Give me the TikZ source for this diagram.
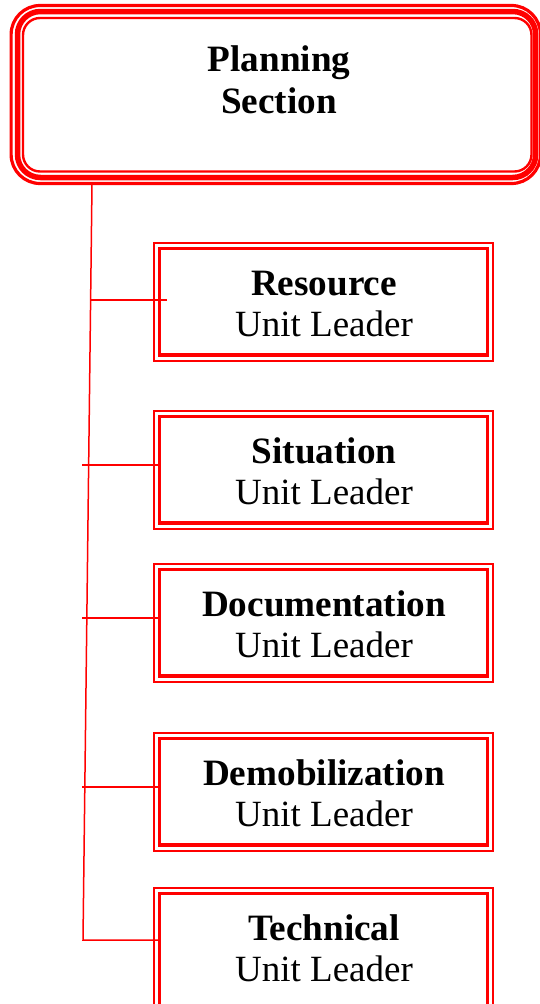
\documentclass[tikz,border=0pt]{standalone}
\usepackage{fontspec}
\setmainfont{Liberation Serif}
\usetikzlibrary{fit,calc}
\begin{document}
\begin{tikzpicture}[x=1pt,y=-1pt,
  unitbox/.style={draw=red, line width=3.2pt, minimum width=327.8pt,
    minimum height=106.5pt, inner sep=0pt, outer sep=0pt},
  unitframe/.style={draw=red, line width=2pt, inner sep=5.5pt, outer sep=0pt},
  headbox/.style={draw=red, line width=2.4pt, rounded corners=17pt,
    minimum width=508.5pt, minimum height=153.5pt, inner sep=0pt, outer sep=0pt},
  title/.style={anchor=base, inner sep=0pt, font=\fontsize{37.2}{42}\selectfont\bfseries},
  subtitle/.style={anchor=base, inner sep=0pt, font=\fontsize{37}{42}\selectfont},
  link/.style={draw=red, line width=1.5pt},
]
\useasboundingbox (0,0) rectangle (539,1004);

% Planning Section: triple rounded frame
\node[headbox] (plan) at (277.25,94.75) {};
\draw[red, line width=5.5pt, rounded corners=23pt]
  ([shift={(-5.5,-6.5)}]plan.north west) rectangle ([shift={(4.2,6)}]plan.south east);
\draw[red, line width=3.2pt, rounded corners=29pt]
  ([shift={(-11.9,-12.5)}]plan.north west) rectangle ([shift={(9,12)}]plan.south east);
\node[title] (plan-t1) at (279,71) {Planning};
\node[title] (plan-t2) at (279,113) {Section};

% Unit boxes: thick inner line, thin outer line
\node[unitbox] (res) at (323.6,301.75) {};
\node[unitframe, fit=(res)] (res-f) {};
\node[title] (res-t) at (324,295) {Resource};
\node[subtitle] (res-s) at (324,336) {Unit Leader};

\node[unitbox] (sit) at (323.6,469.75) {};
\node[unitframe, fit=(sit)] (sit-f) {};
\node[title] (sit-t) at (324,463) {Situation};
\node[subtitle] (sit-s) at (324,504) {Unit Leader};

\node[unitbox] (doc) at (323.6,622.75) {};
\node[unitframe, fit=(doc)] (doc-f) {};
\node[title] (doc-t) at (324,616) {Documentation};
\node[subtitle] (doc-s) at (324,657) {Unit Leader};

\node[unitbox] (dem) at (323.6,791.75) {};
\node[unitframe, fit=(dem)] (dem-f) {};
\node[title] (dem-t) at (324,785) {Demobilization};
\node[subtitle] (dem-s) at (324,826) {Unit Leader};

\node[unitbox, minimum height=120pt] (tec) at (323.6,953.5) {};
\node[unitframe, fit=(tec)] (tec-f) {};
\node[title] (tec-t) at (324,940) {Technical};
\node[subtitle] (tec-s) at (324,981) {Unit Leader};

% Connectors
\coordinate (t0) at (92,184);
\coordinate (t1) at (83,940);
\coordinate (b1) at (90.6,300);
\coordinate (b2) at (82,465);
\coordinate (b3) at (82,618);
\coordinate (b4) at (82,787);

\draw[link] (t0) -- (t1) -- (t1 -| tec.west);
\draw[link] (b1) -- ($(b1 -| res.west)+(7.3,0)$);
\draw[link] (b2) -- (b2 -| sit.west);
\draw[link] (b3) -- (b3 -| doc.west);
\draw[link] (b4) -- (b4 -| dem.west);
\end{tikzpicture}
\end{document}
